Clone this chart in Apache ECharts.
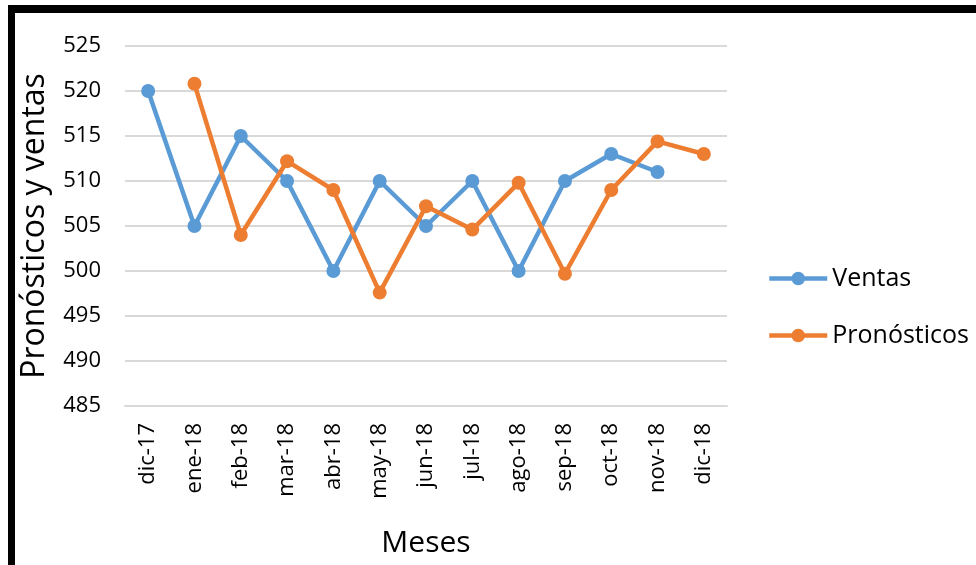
<!DOCTYPE html>
<html>
<head>
<meta charset="utf-8">
<script src="https://cdn.jsdelivr.net/npm/echarts@6/dist/echarts.min.js"></script>
<style>
  html, body { margin: 0; padding: 0; background: #fff; }
  #chart { position: absolute; left: 0; top: 0; width: 976px; height: 565px; }
  #frame {
    position: absolute; left: 8px; top: 5px; width: 976px; height: 553px;
    border-left: 7px solid #000; border-top: 8px solid #000; border-bottom: 7px solid #000;
    box-sizing: content-box; pointer-events: none;
  }
</style>
</head>
<body>
<div id="chart"></div>
<div id="frame"></div>
<script>
// meses
const meses = ["dic-17", "ene-18", "feb-18", "mar-18", "abr-18", "may-18", "jun-18",
  "jul-18", "ago-18", "sep-18", "oct-18", "nov-18", "dic-18"];
// valores
const ventas = [520, 505, 515, 510, 500, 510, 505, 510, 500, 510, 513, 511, null];
const pronosticos = [null, 520.8, 504, 512.2, 509, 497.6, 507.2, 504.6, 509.8, 499.7, 509, 514.4, 513];

const fontFam = "'Open Sans', 'Noto Sans', sans-serif";
const chart = echarts.init(document.getElementById("chart"));
chart.setOption({
  animation: false,
  textStyle: { fontFamily: fontFam },
  grid: { left: 125, right: 249, top: 46, bottom: 159 },
  legend: {
    orient: "vertical",
    left: 762,
    top: 261,
    itemWidth: 58,
    itemHeight: 17,
    itemGap: 32,
    lineStyle: { width: 4.5 },
    textStyle: { fontSize: 25, color: "#000", fontFamily: fontFam },
    data: ["Ventas", "Pronósticos"]
  },
  xAxis: {
    type: "category",
    data: meses,
    name: "Meses",
    nameLocation: "middle",
    nameGap: 122,
    nameTextStyle: { fontSize: 30, color: "#000" },
    axisTick: { show: false },
    axisLine: { lineStyle: { color: "#d9d9d9", width: 2 } },
    axisLabel: { rotate: 90, fontSize: 22, color: "#000", margin: 17, interval: 0 }
  },
  yAxis: {
    type: "value",
    min: 485,
    max: 525,
    interval: 5,
    name: "Pronósticos y ventas",
    nameLocation: "middle",
    nameGap: 74,
    nameTextStyle: { fontSize: 32, color: "#000" },
    axisLine: { show: false },
    axisTick: { show: false },
    axisLabel: { fontSize: 22, color: "#000", margin: 24 },
    splitLine: { lineStyle: { color: "#d9d9d9", width: 2 } }
  },
  series: [
    {
      name: "Ventas",
      type: "line",
      data: ventas,
      symbol: "circle",
      symbolSize: 14,
      lineStyle: { width: 4.5, color: "#5B9BD5" },
      itemStyle: { color: "#5B9BD5" }
    },
    {
      name: "Pronósticos",
      type: "line",
      data: pronosticos,
      symbol: "circle",
      symbolSize: 14,
      lineStyle: { width: 4.5, color: "#ED7D31" },
      itemStyle: { color: "#ED7D31" }
    }
  ]
});
</script>
</body>
</html>
